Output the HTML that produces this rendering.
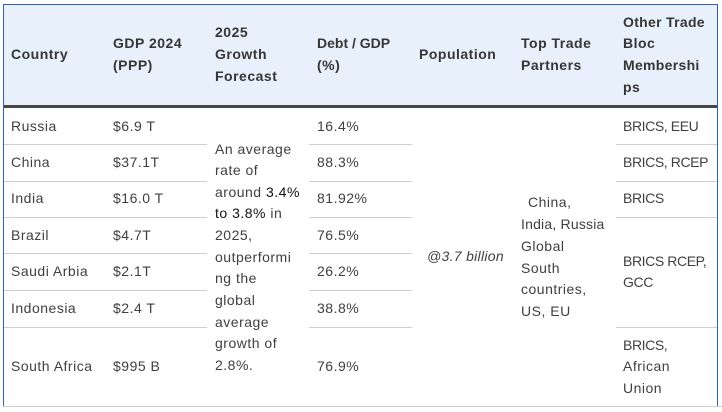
<!DOCTYPE html>
<html>
<head>
<meta charset="utf-8">
<style>
  html,body{margin:0;padding:0;background:#fff;}
  body{width:722px;height:412px;position:relative;overflow:hidden;font-family:"Liberation Sans",sans-serif;}
  .box{position:absolute;left:3px;top:4px;width:713px;height:402px;border:1px solid #2f5fb7;border-bottom:none;}
  .hbg{position:absolute;left:4px;top:5px;width:713px;height:100px;background:#e8f0fb;}
  .thick{position:absolute;left:4px;top:105px;width:713px;height:3px;background:#474747;}
  .ln{position:absolute;height:1px;background:#cfcfcf;}
  .t{position:absolute;height:22px;line-height:22px;white-space:nowrap;font-size:14px;color:#404040;letter-spacing:0.5px;}
  .h{font-weight:bold;color:#363636;letter-spacing:0.5px;}
  .dk{color:#111;}
  .it{font-style:italic;}
  .cap{letter-spacing:-0.4px;}
</style>
</head>
<body>
<div class="hbg"></div>
<div class="box"></div>
<div class="thick"></div>

<!-- row lines -->
<div class="ln" style="left:4px;top:144px;width:203px"></div>
<div class="ln" style="left:309px;top:144px;width:103px"></div>
<div class="ln" style="left:616px;top:144px;width:101px"></div>

<div class="ln" style="left:4px;top:181px;width:203px"></div>
<div class="ln" style="left:309px;top:181px;width:103px"></div>
<div class="ln" style="left:616px;top:181px;width:101px"></div>

<div class="ln" style="left:4px;top:217px;width:203px"></div>
<div class="ln" style="left:309px;top:217px;width:103px"></div>
<div class="ln" style="left:616px;top:217px;width:101px"></div>

<div class="ln" style="left:4px;top:253px;width:203px"></div>
<div class="ln" style="left:309px;top:253px;width:103px"></div>

<div class="ln" style="left:4px;top:290px;width:203px"></div>
<div class="ln" style="left:309px;top:290px;width:103px"></div>

<div class="ln" style="left:4px;top:327px;width:203px"></div>
<div class="ln" style="left:309px;top:327px;width:103px"></div>
<div class="ln" style="left:616px;top:327px;width:101px"></div>

<div class="ln" style="left:3px;top:406px;width:719px"></div>

<!-- header -->
<div class="t h" style="left:11px;top:43px">Country</div>
<div class="t h" style="left:113px;top:32px">GDP 2024</div>
<div class="t h" style="left:113px;top:54px">(PPP)</div>
<div class="t h" style="left:215px;top:21px">2025</div>
<div class="t h" style="left:215px;top:43px">Growth</div>
<div class="t h" style="left:215px;top:65px">Forecast</div>
<div class="t h" style="left:317px;top:32px;letter-spacing:0">Debt / GDP</div>
<div class="t h" style="left:317px;top:54px">(%)</div>
<div class="t h" style="left:419px;top:43px">Population</div>
<div class="t h" style="left:521px;top:32px">Top Trade</div>
<div class="t h" style="left:521px;top:54px">Partners</div>
<div class="t h" style="left:623px;top:11px;letter-spacing:0.3px">Other Trade</div>
<div class="t h" style="left:623px;top:32px">Bloc</div>
<div class="t h" style="left:623px;top:54px;letter-spacing:0.3px">Membershi</div>
<div class="t h" style="left:623px;top:76px">ps</div>

<!-- country col -->
<div class="t" style="left:11px;top:115px">Russia</div>
<div class="t" style="left:11px;top:151px">China</div>
<div class="t" style="left:11px;top:187px">India</div>
<div class="t" style="left:11px;top:224px">Brazil</div>
<div class="t" style="left:11px;top:260px">Saudi Arbia</div>
<div class="t" style="left:11px;top:297px">Indonesia</div>
<div class="t" style="left:11px;top:355px">South Africa</div>

<!-- GDP col -->
<div class="t" style="left:113px;top:115px">$6.9 T</div>
<div class="t" style="left:113px;top:151px">$37.1T</div>
<div class="t" style="left:113px;top:187px">$16.0 T</div>
<div class="t" style="left:113px;top:224px">$4.7T</div>
<div class="t" style="left:113px;top:260px">$2.1T</div>
<div class="t" style="left:113px;top:297px">$2.4 T</div>
<div class="t" style="left:113px;top:355px">$995 B</div>

<!-- growth col -->
<div class="t" style="left:215px;top:138px">An average</div>
<div class="t" style="left:215px;top:159px">rate of</div>
<div class="t" style="left:215px;top:181px">around <span class="dk">3.4%</span></div>
<div class="t dk" style="left:215px;top:202px">to 3.8% <span style="color:#404040">in</span></div>
<div class="t" style="left:215px;top:224px">2025,</div>
<div class="t" style="left:215px;top:246px">outperformi</div>
<div class="t" style="left:215px;top:267px">ng the</div>
<div class="t" style="left:215px;top:289px">global</div>
<div class="t" style="left:215px;top:311px">average</div>
<div class="t" style="left:215px;top:332px">growth of</div>
<div class="t" style="left:215px;top:354px">2.8%.</div>

<!-- debt col -->
<div class="t" style="left:317px;top:115px">16.4%</div>
<div class="t" style="left:317px;top:151px">88.3%</div>
<div class="t" style="left:317px;top:187px">81.92%</div>
<div class="t" style="left:317px;top:224px">76.5%</div>
<div class="t" style="left:317px;top:260px">26.2%</div>
<div class="t" style="left:317px;top:297px">38.8%</div>
<div class="t" style="left:317px;top:355px">76.9%</div>

<!-- population -->
<div class="t it" style="left:427px;top:245px;letter-spacing:0.3px">@3.7 billion</div>

<!-- top trade -->
<div class="t" style="left:528px;top:191px">China,</div>
<div class="t" style="left:521px;top:213px;letter-spacing:0.2px">India, Russia</div>
<div class="t" style="left:521px;top:235px">Global</div>
<div class="t" style="left:521px;top:257px">South</div>
<div class="t" style="left:521px;top:278px">countries,</div>
<div class="t" style="left:521px;top:300px">US, EU</div>

<!-- other trade -->
<div class="t cap" style="left:623px;top:115px">BRICS, EEU</div>
<div class="t cap" style="left:623px;top:151px">BRICS, RCEP</div>
<div class="t cap" style="left:623px;top:187px">BRICS</div>
<div class="t cap" style="left:623px;top:250px">BRICS RCEP,</div>
<div class="t cap" style="left:623px;top:271px">GCC</div>
<div class="t cap" style="left:623px;top:334px">BRICS,</div>
<div class="t" style="left:623px;top:355px">African</div>
<div class="t" style="left:623px;top:377px">Union</div>
</body>
</html>
